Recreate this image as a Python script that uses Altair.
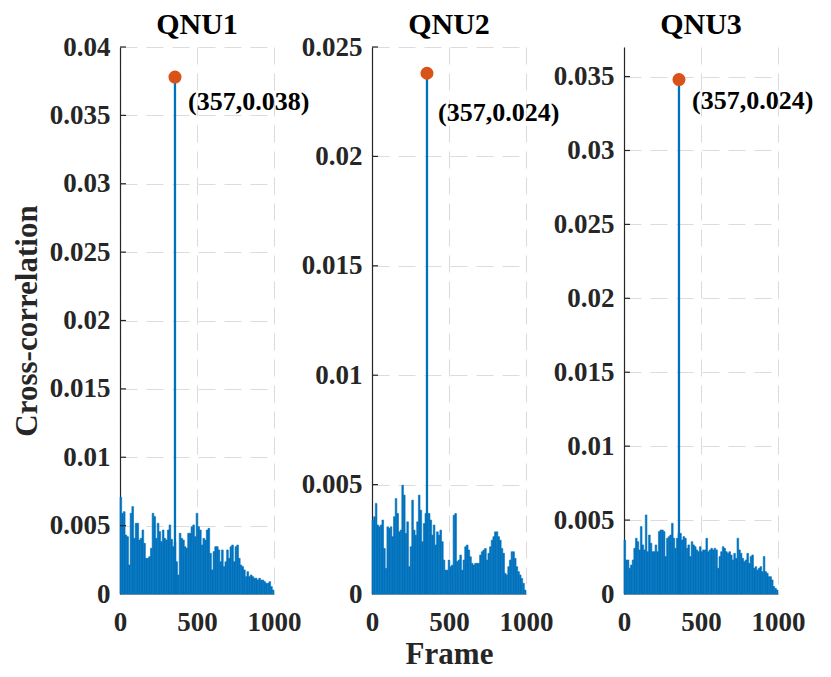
import altair as alt
import pandas as pd

FONT = "Liberation Serif"
BLUE = "#0072BD"
ORANGE = "#D95319"

panel_titles = ["QNU1", "QNU2", "QNU3"]
peak_frame = 357
peak_values = [0.0378, 0.0238, 0.0348]
peak_labels = ["(357,0.038)", "(357,0.024)", "(357,0.024)"]
y_max = [0.04, 0.025, 0.037]
y_ticks = [
    [0, 0.005, 0.01, 0.015, 0.02, 0.025, 0.03, 0.035, 0.04],
    [0, 0.005, 0.01, 0.015, 0.02, 0.025],
    [0, 0.005, 0.01, 0.015, 0.02, 0.025, 0.03, 0.035],
]
x_ticks = [0, 500, 1000]

# background cross-correlation levels (frame 0 -> 1000)
noise1 = [0.00707, 0.00590, 0.00602, 0.00431, 0.00419, 0.00212, 0.00590, 0.00639, 0.00407, 0.00517,
          0.00517, 0.00395, 0.00407, 0.00468, 0.00371, 0.00261, 0.00261, 0.00273, 0.00334, 0.00590,
          0.00566, 0.00407, 0.00517, 0.00456, 0.00383, 0.00468, 0.00407, 0.00395, 0.00468, 0.00505,
          0.00400, 0.00346, 0.00383, 0.00236, 0.00139, 0.00444, 0.00407, 0.00395, 0.00346, 0.00334,
          0.00444, 0.00444, 0.00492, 0.00505, 0.00419, 0.00590, 0.00492, 0.00468, 0.00358, 0.00407,
          0.00395, 0.00468, 0.00480, 0.00297, 0.00176, 0.00310, 0.00346, 0.00346, 0.00322, 0.00236,
          0.00322, 0.00200, 0.00236, 0.00322, 0.00261, 0.00346, 0.00358, 0.00236, 0.00346, 0.00358,
          0.00261, 0.00212, 0.00200, 0.00176, 0.00127, 0.00163, 0.00127, 0.00139, 0.00127, 0.00115,
          0.00115, 0.00102, 0.00115, 0.00102, 0.00102, 0.00090, 0.00078, 0.00078, 0.00090, 0.00054,
          0.00029]
noise2 = [0.00338, 0.00353, 0.00414, 0.00315, 0.00307, 0.00315, 0.00338, 0.00208, 0.00117, 0.00307,
          0.00300, 0.00307, 0.00262, 0.00353, 0.00436, 0.00368, 0.00284, 0.00292, 0.00497, 0.00452,
          0.00277, 0.00330, 0.00125, 0.00216, 0.00429, 0.00292, 0.00269, 0.00330, 0.00452, 0.00383,
          0.00239, 0.00322, 0.00368, 0.00368, 0.00368, 0.00338, 0.00269, 0.00315, 0.00224, 0.00284,
          0.00269, 0.00292, 0.00239, 0.00155, 0.00109, 0.00109, 0.00155, 0.00125, 0.00132, 0.00360,
          0.00368, 0.00148, 0.00155, 0.00178, 0.00109, 0.00155, 0.00216, 0.00224, 0.00201, 0.00170,
          0.00140, 0.00132, 0.00140, 0.00140, 0.00140, 0.00178, 0.00193, 0.00201, 0.00208, 0.00155,
          0.00186, 0.00216, 0.00246, 0.00262, 0.00284, 0.00284, 0.00262, 0.00246, 0.00208, 0.00186,
          0.00094, 0.00087, 0.00125, 0.00155, 0.00193, 0.00193, 0.00163, 0.00125, 0.00102, 0.00087,
          0.00071, 0.00049, 0.00018]
noise3 = [0.00365, 0.00230, 0.00230, 0.00174, 0.00196, 0.00230, 0.00309, 0.00377, 0.00354, 0.00298,
          0.00456, 0.00332, 0.00298, 0.00535, 0.00286, 0.00399, 0.00343, 0.00286, 0.00286, 0.00332,
          0.00286, 0.00422, 0.00433, 0.00433, 0.00422, 0.00253, 0.00377, 0.00388, 0.00399, 0.00478,
          0.00377, 0.00309, 0.00377, 0.00410, 0.00410, 0.00365, 0.00388, 0.00377, 0.00309, 0.00332,
          0.00253, 0.00354, 0.00332, 0.00320, 0.00298, 0.00286, 0.00320, 0.00286, 0.00298, 0.00298,
          0.00377, 0.00286, 0.00298, 0.00309, 0.00298, 0.00309, 0.00298, 0.00174, 0.00253, 0.00286,
          0.00320, 0.00309, 0.00286, 0.00275, 0.00286, 0.00264, 0.00230, 0.00275, 0.00241, 0.00377,
          0.00298, 0.00275, 0.00241, 0.00219, 0.00230, 0.00275, 0.00207, 0.00253, 0.00264, 0.00174,
          0.00185, 0.00162, 0.00174, 0.00185, 0.00151, 0.00253, 0.00151, 0.00140, 0.00117, 0.00117,
          0.00095, 0.00050, 0.00038, 0.00027]
noises = [noise1, noise2, noise3]

label_dx = [13, 11, 13]
label_dy = [25, 40, 21]
title_dy = [14, 14, 0]

PW, PH = 154, 547


def panel(i):
    vals = noises[i]
    n = len(vals)
    df = pd.DataFrame({
        "f0": [k * 1000 / n for k in range(n)],
        "f1": [(k + 1) * 1000 / n for k in range(n)],
        "v": vals,
    })
    peak = pd.DataFrame({"f": [peak_frame], "v": [peak_values[i]], "lab": [peak_labels[i]], "z": [0]})
    ticks = pd.DataFrame({"t": y_ticks[i][1:]})

    xscale = alt.Scale(domain=[0, 1000], nice=False, zero=False)
    yscale = alt.Scale(domain=[0, y_max[i]], nice=False)

    yaxis = alt.Axis(
        values=y_ticks[i], format="~g", grid=True, gridDash=[17, 9], gridColor="#dcdcdc",
        gridWidth=1.1, ticks=False, tickSize=0, labelPadding=10, domainColor="#262626",
        domainWidth=1.2, labelFontSize=27, labelFont=FONT, labelFontWeight="bold",
        labelColor="#262626", titleFont=FONT, titleFontSize=31, titleFontWeight="bold",
        titleColor="#262626", titlePadding=6, labelFlush=False, labelOverlap=False,
    )
    xaxis = alt.Axis(
        values=x_ticks, format="d", grid=True, gridDash=[17, 9], gridColor="#dcdcdc",
        gridWidth=1.1, ticks=False, tickSize=0, labelPadding=15, domainColor="#9a9a9a",
        domainWidth=1, labelFontSize=27, labelFont=FONT, labelFontWeight="bold",
        labelColor="#262626", titleFont=FONT, titleFontSize=31, titleFontWeight="bold",
        titleColor="#262626", titlePadding=4, labelFlush=False, labelOverlap=False,
    )

    xtitle = "Frame" if i == 1 else None
    ytitle = "Cross-correlation" if i == 0 else None

    bars = alt.Chart(df).mark_rect(color=BLUE, stroke=BLUE, strokeWidth=0.6).encode(
        x=alt.X("f0:Q", scale=xscale, axis=xaxis, title=xtitle),
        x2="f1:Q",
        y=alt.Y("v:Q", scale=yscale, axis=yaxis, title=ytitle),
        y2=alt.datum(0),
    )
    stem = alt.Chart(peak).mark_rule(color=BLUE, strokeWidth=2.3).encode(
        x="f:Q", y="v:Q", y2="z:Q"
    )
    dot = alt.Chart(peak).mark_circle(color=ORANGE, opacity=1, size=170).encode(
        x="f:Q", y="v:Q"
    )
    txt = alt.Chart(peak).mark_text(
        align="left", baseline="middle", dx=label_dx[i], dy=label_dy[i],
        font=FONT, fontSize=26, fontWeight="bold", color="#000000",
    ).encode(x="f:Q", y="v:Q", text="lab:N")
    inticks = alt.Chart(ticks).mark_rule(color="#262626", strokeWidth=1.2).encode(
        y="t:Q", x=alt.value(0), x2=alt.value(6)
    )

    return alt.layer(bars, stem, inticks, dot, txt).properties(
        width=PW, height=PH,
        title=alt.TitleParams(panel_titles[i], font=FONT, fontSize=30, fontWeight="bold",
                              color="#000000", offset=7, dy=title_dy[i]),
    )


chart = alt.hconcat(panel(0), panel(1), panel(2), spacing=98, bounds="flush").configure_view(
    stroke=None
).properties(padding={"left": 3, "top": 2, "right": 5, "bottom": 5})

chart.save("out.html", embed_options={"renderer": "svg", "actions": False})
